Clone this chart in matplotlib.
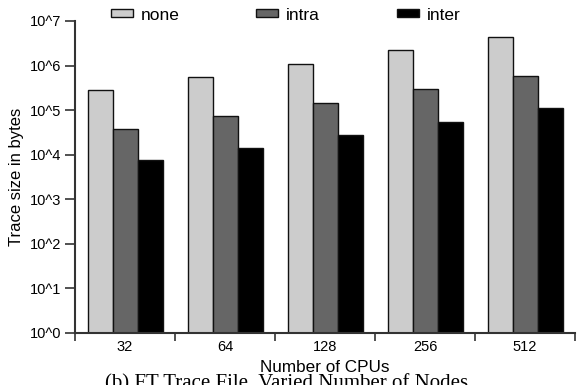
import numpy as np
import matplotlib.pyplot as plt

cpus = ["32", "64", "128", "256", "512"]
series = ["none", "intra", "inter"]
size_none = [2.8e5, 5.5e5, 1.1e6, 2.2e6, 4.4e6]
size_intra = [3.7e4, 7.3e4, 1.45e5, 2.95e5, 5.9e5]
size_inter = [7.6e3, 1.43e4, 2.75e4, 5.5e4, 1.09e5]
colors = ["#cccccc", "#666666", "#000000"]

plt.rcParams["font.family"] = ["Liberation Sans", "DejaVu Sans"]

fig = plt.figure(figsize=(5.84, 3.85), dpi=100)
ax = fig.add_axes([75 / 584, (385 - 333) / 385, 500 / 584, 312 / 385])

x = np.arange(len(cpus))
width = 0.25
for i, (vals, name) in enumerate(zip([size_none, size_intra, size_inter], series)):
    ax.bar(x + (i - 1) * width, vals, width, bottom=1, color=colors[i],
           edgecolor="#111111", linewidth=1.0, label=name)

ax.set_yscale("log")
ax.set_ylim(1, 1e7)
ax.set_xlim(-0.5, len(cpus) - 0.5)
ax.set_yticks([10.0 ** k for k in range(8)])
ax.set_yticklabels(["10^%d" % k for k in range(8)])
ax.minorticks_off()

# category labels centered, ticks on the group boundaries
ax.set_xticks(np.arange(len(cpus) + 1) - 0.5)
ax.set_xticklabels([])
ax.set_xticks(x, minor=True)
ax.set_xticklabels(cpus, minor=True)
ax.tick_params(axis="x", which="minor", length=0, labelsize=10.5, pad=5)
ax.tick_params(axis="x", which="major", length=6, width=1.2, color="#333333")
ax.tick_params(axis="y", length=7, width=1.2, color="#333333", labelsize=10.5, pad=2.7)

for s in ["top", "right"]:
    ax.spines[s].set_visible(False)
for s in ["left", "bottom"]:
    ax.spines[s].set_linewidth(1.5)
    ax.spines[s].set_color("#333333")

ax.set_ylabel("Trace size in bytes", fontsize=12, labelpad=4)
ax.set_xlabel("Number of CPUs", fontsize=12.3, labelpad=4)

fig.legend(*ax.get_legend_handles_labels(), loc="center left",
           bbox_to_anchor=(111 / 584, 1 - 15 / 385), ncol=3, frameon=False,
           fontsize=12.5, handlelength=1.27, handleheight=0.37, columnspacing=4.4,
           handletextpad=0.46, borderpad=0, borderaxespad=0)

fig.text(287 / 584, (385 - 374) / 385, "(b) FT Trace File, Varied Number of Nodes",
         ha="center", va="top", fontsize=15,
         family=["Liberation Serif", "DejaVu Serif"])

fig.savefig("out.png", dpi=100)
